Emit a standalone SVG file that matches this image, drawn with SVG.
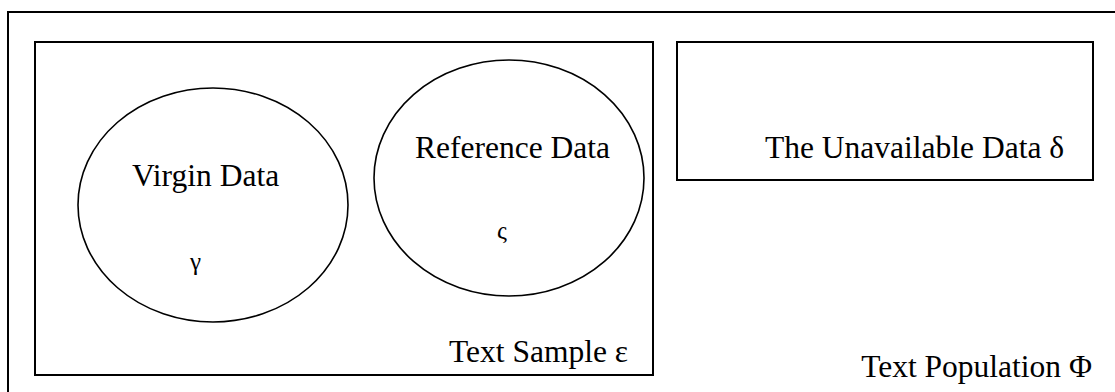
<svg xmlns="http://www.w3.org/2000/svg" width="1115" height="392" viewBox="0 0 1115 392">
  <style>
    .box { fill: none; stroke: #000; stroke-width: 2; }
    .set { fill: none; stroke: #000; stroke-width: 1.6; }
    .lbl { font-family: "Liberation Serif", "Times New Roman", serif; font-size: 31.5px; fill: #000; }
    .sym { font-family: "Liberation Serif", "Times New Roman", serif; font-size: 25px; fill: #000; }
  </style>
  <rect width="1115" height="392" fill="#fff"/>

  <!-- whole population: frame runs past the right and bottom edges -->
  <g id="population">
    <rect class="box" x="8" y="12" width="1120" height="400"/>
    <text class="lbl" x="1092" y="377" text-anchor="end">Text Population Φ</text>
  </g>

  <!-- sample drawn from the population -->
  <g id="sample">
    <rect class="box" x="35" y="42" width="618" height="333"/>
    <text class="lbl" x="449" y="362">Text Sample ε</text>
  </g>

  <g id="virgin">
    <ellipse class="set" cx="213" cy="205" rx="135" ry="117"/>
    <text class="lbl" x="132" y="186">Virgin Data</text>
    <text class="sym" x="190" y="270">γ</text>
  </g>

  <g id="reference">
    <ellipse class="set" cx="509" cy="178" rx="135" ry="118"/>
    <text class="lbl" x="415" y="158">Reference Data</text>
    <text class="sym" x="497" y="239">ς</text>
  </g>

  <g id="unavailable">
    <rect class="box" x="677" y="42" width="416" height="138"/>
    <text class="lbl" x="765" y="158">The Unavailable Data δ</text>
  </g>
</svg>
